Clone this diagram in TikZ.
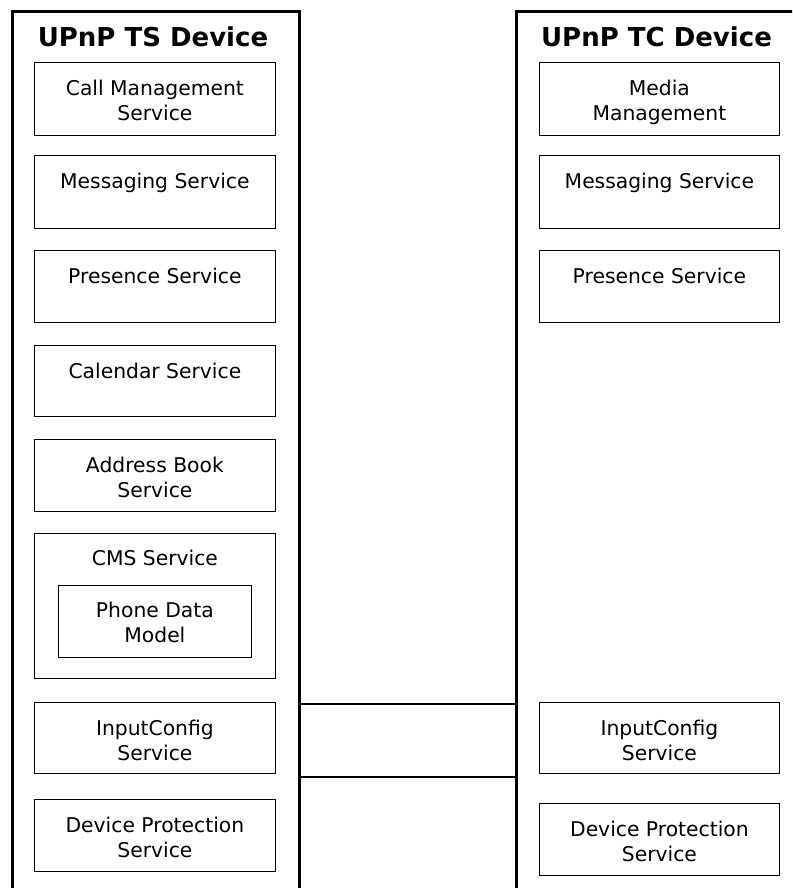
\documentclass[tikz,border=0pt]{standalone}
\usepackage{fontspec}
\setmainfont{DejaVu Sans}
\begin{document}
\begin{tikzpicture}[x=1pt,y=-1pt,
  dev/.style={draw, line width=3pt, rectangle, inner sep=0pt, anchor=north west},
  svc/.style={draw, line width=1.3pt, rectangle, inner sep=0pt, anchor=north west},
  lbl/.style={anchor=north, align=center, inner sep=0pt, font=\fontsize{20.3}{25}\selectfont},
  ttl/.style={anchor=base, inner sep=0pt, font=\bfseries\fontsize{26}{30}\selectfont},
  link/.style={draw, line width=1.8pt}]
\useasboundingbox (0,0) rectangle (792,888);
\clip (0,0) rectangle (792,888);
% devices
\node[dev, minimum width=287pt, minimum height=910pt] (ts) at (10.5,10) {};
\node[dev, minimum width=300pt, minimum height=910pt] (tc) at (515,10) {};
\node[ttl] (tsT) at (153,47) {UPnP TS Device};
\node[ttl] (tcT) at (656.5,47) {UPnP TC Device};
% left services
\node[svc, minimum width=240.5pt, minimum height=73pt] (cm) at (34,62) {};
\node[lbl] (cmT) at ([yshift=-17pt]cm.north) {\rule{0pt}{16pt}Call Management\\Service};
\node[svc, minimum width=240.5pt, minimum height=73pt] (msgL) at (34,155) {};
\node[lbl] (msgLT) at ([yshift=-17pt]msgL.north) {\rule{0pt}{16pt}Messaging Service};
\node[svc, minimum width=240.5pt, minimum height=72pt] (presL) at (34,250) {};
\node[lbl] (presLT) at ([yshift=-17pt]presL.north) {\rule{0pt}{16pt}Presence Service};
\node[svc, minimum width=240.5pt, minimum height=71pt] (cal) at (34,345) {};
\node[lbl] (calT) at ([yshift=-17pt]cal.north) {\rule{0pt}{16pt}Calendar Service};
\node[svc, minimum width=240.5pt, minimum height=72pt] (ab) at (34,439) {};
\node[lbl] (abT) at ([yshift=-17pt]ab.north) {\rule{0pt}{16pt}Address Book\\Service};
\node[svc, minimum width=240.5pt, minimum height=145pt] (cms) at (34,533) {};
\node[lbl] (cmsT) at ([yshift=-16pt]cms.north) {\rule{0pt}{16pt}CMS Service};
\node[svc, minimum width=192.5pt, minimum height=72pt] (pdm) at (58,585) {};
\node[lbl] (pdmT) at ([yshift=-16pt]pdm.north) {\rule{0pt}{16pt}Phone Data\\Model};
\node[svc, minimum width=240.5pt, minimum height=71pt] (icL) at (34,702) {};
\node[lbl] (icLT) at ([yshift=-17pt]icL.north) {\rule{0pt}{16pt}InputConfig\\Service};
\node[svc, minimum width=240.5pt, minimum height=72pt] (dpL) at (34,799) {};
\node[lbl] (dpLT) at ([yshift=-17pt]dpL.north) {\rule{0pt}{16pt}Device Protection\\Service};
% right services
\node[svc, minimum width=240.5pt, minimum height=73pt] (mm) at (538.5,62) {};
\node[lbl] (mmT) at ([yshift=-17pt]mm.north) {\rule{0pt}{16pt}Media\\Management};
\node[svc, minimum width=240.5pt, minimum height=73pt] (msgR) at (538.5,155) {};
\node[lbl] (msgRT) at ([yshift=-17pt]msgR.north) {\rule{0pt}{16pt}Messaging Service};
\node[svc, minimum width=240.5pt, minimum height=72pt] (presR) at (538.5,250) {};
\node[lbl] (presRT) at ([yshift=-17pt]presR.north) {\rule{0pt}{16pt}Presence Service};
\node[svc, minimum width=240.5pt, minimum height=71pt] (icR) at (538.5,702) {};
\node[lbl] (icRT) at ([yshift=-17pt]icR.north) {\rule{0pt}{16pt}InputConfig\\Service};
\node[svc, minimum width=240.5pt, minimum height=72pt] (dpR) at (538.5,803) {};
\node[lbl] (dpRT) at ([yshift=-17pt]dpR.north) {\rule{0pt}{16pt}Device Protection\\Service};
% links
\coordinate (ya) at (0,704);
\coordinate (yb) at (0,777);
\draw[link] (ts.east |- ya) -- (tc.west |- ya);
\draw[link] (ts.east |- yb) -- (tc.west |- yb);
\end{tikzpicture}
\end{document}
